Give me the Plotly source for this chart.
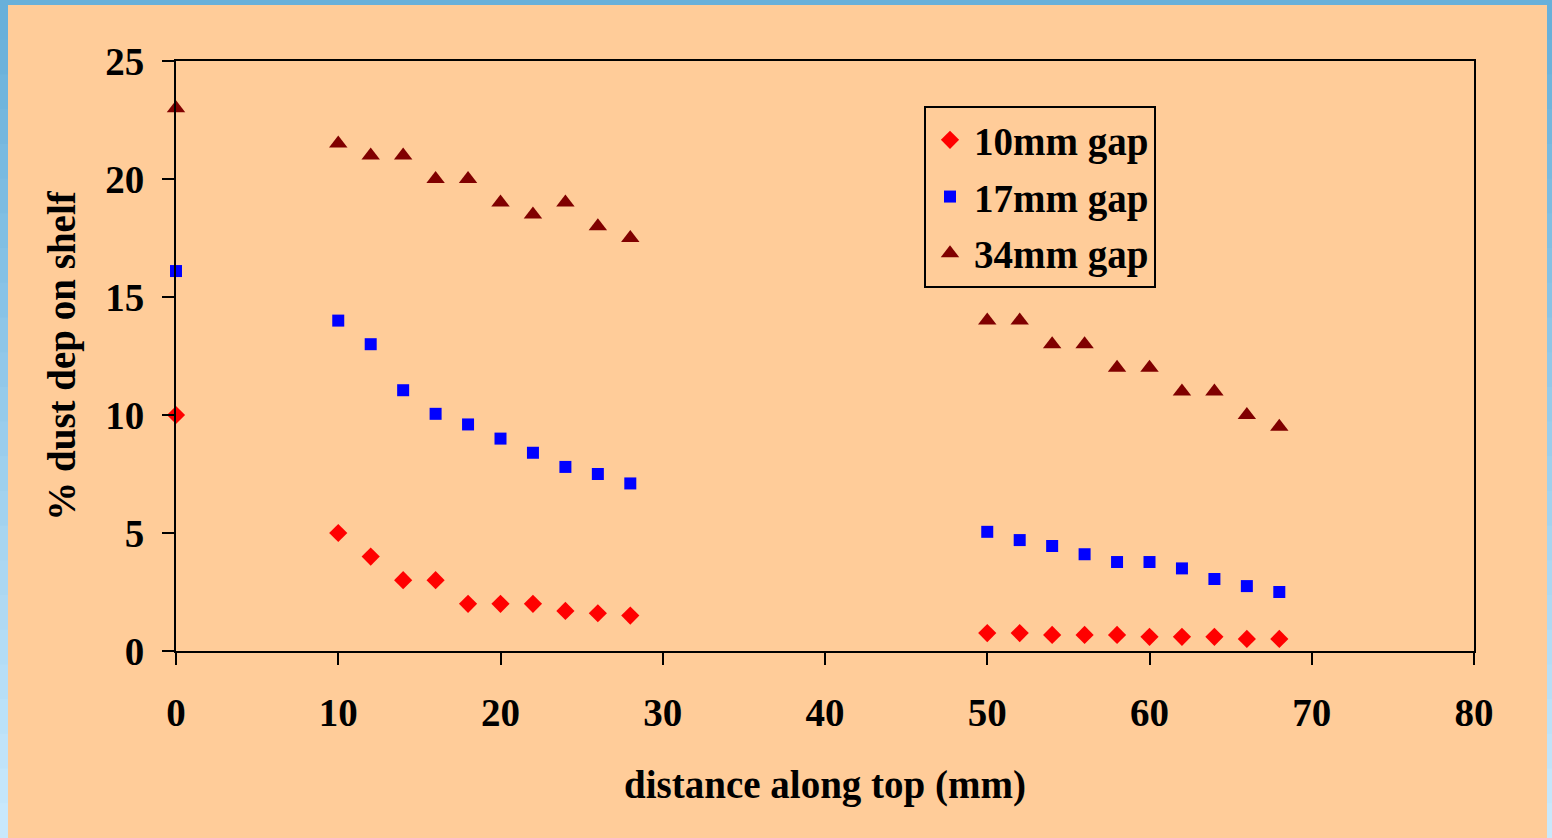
import plotly.graph_objects as go

x_vals = [0, 10, 12, 14, 16, 18, 20, 22, 24, 26, 28,
          50, 52, 54, 56, 58, 60, 62, 64, 66, 68]
gap10 = [10, 5, 4, 3, 3, 2, 2, 2, 1.7, 1.6, 1.5,
         0.76, 0.76, 0.68, 0.68, 0.68, 0.6, 0.6, 0.6, 0.51, 0.51]
gap17 = [16.1, 14.0, 13.0, 11.05, 10.05, 9.6, 9.0, 8.4, 7.8, 7.5, 7.1,
         5.05, 4.7, 4.45, 4.1, 3.77, 3.77, 3.5, 3.05, 2.75, 2.5]
gap34 = [23.0, 21.5, 21.0, 21.0, 20.0, 20.0, 19.0, 18.5, 19.0, 18.0, 17.5,
         14.0, 14.0, 13.0, 13.0, 12.0, 12.0, 11.0, 11.0, 10.0, 9.5]
series_names = ["10mm gap", "17mm gap", "34mm gap"]

W, H = 1552, 838
L, R, T, B = 176, 78, 61, 187
PW, PH = W - L - R, H - T - B
PEACH = "#ffcc99"
FONT = "Liberation Serif"
FS = 39

fig = go.Figure()
fig.add_trace(go.Scatter(x=x_vals, y=gap10, mode="markers", name="<b>" + series_names[0] + "</b>",
                         legendgroup="a",
                         marker=dict(symbol="diamond", size=14, color="#ff0000"),
                         cliponaxis=False))
fig.add_trace(go.Scatter(x=x_vals, y=gap17, mode="markers", name="<b>" + series_names[1] + "</b>",
                         legendgroup="b",
                         marker=dict(symbol="square", size=12, color="#0000ff"),
                         cliponaxis=False))
fig.add_trace(go.Scatter(x=x_vals, y=gap34, mode="markers", name="<b>" + series_names[2] + "</b>",
                         legendgroup="c",
                         marker=dict(symbol="triangle-up", size=16, color="#800000"),
                         cliponaxis=False))


def px2x(px):
    return (px - L) / PW


def py2y(py):
    return (H - B - py) / PH


shapes = []
shapes.append(dict(type="rect", xref="paper", yref="paper", layer="below",
                   x0=px2x(0), x1=px2x(W), y0=py2y(5), y1=py2y(0),
                   fillcolor="#68b0da", line=dict(width=0)))
n = 24
c0 = (104, 176, 218)
c1 = (200, 232, 252)
for i in range(n):
    t = i / (n - 1)
    col = "rgb(%d,%d,%d)" % tuple(round(a + (b - a) * t) for a, b in zip(c0, c1))
    ya = 5 + (H - 5) * i / n
    yb = min(5 + (H - 5) * (i + 1) / n + 1, H)
    for xa, xb in ((0, 8), (1547, W)):
        shapes.append(dict(type="rect", xref="paper", yref="paper", layer="below",
                           x0=px2x(xa), x1=px2x(xb), y0=py2y(yb), y1=py2y(ya),
                           fillcolor=col, line=dict(width=0)))

axis_common = dict(showline=True, linecolor="black", linewidth=2, mirror=True,
                   ticks="outside", ticklen=12, tickwidth=2, tickcolor="black",
                   showgrid=False, zeroline=False,
                   tickprefix="<b>", ticksuffix="</b>",
                   tickfont=dict(family=FONT, size=FS, color="black"))

fig.update_layout(
    width=W, height=H,
    margin=dict(l=L, r=R, t=T, b=B),
    paper_bgcolor=PEACH, plot_bgcolor=PEACH,
    font=dict(family=FONT, color="black"),
    shapes=shapes,
    xaxis=dict(range=[0, 80], dtick=10, ticklabelstandoff=14,
               title=dict(text="<b>distance along top (mm)</b>", font=dict(family=FONT, size=FS), standoff=38),
               **axis_common),
    yaxis=dict(range=[0, 25], dtick=5, ticklabelstandoff=10,
               title=dict(text="<b>% dust dep on shelf</b>", font=dict(family=FONT, size=FS), standoff=18),
               **axis_common),
    legend=dict(x=px2x(924), y=py2y(106), xanchor="left", yanchor="top",
                bgcolor=PEACH, bordercolor="black", borderwidth=2,
                font=dict(family=FONT, size=FS, color="black"),
                tracegroupgap=3, itemwidth=38),
    showlegend=True,
)

fig.write_html("out.html", config={"displayModeBar": False},
               post_script="document.body.style.margin='0';document.body.style.overflow='hidden';")
